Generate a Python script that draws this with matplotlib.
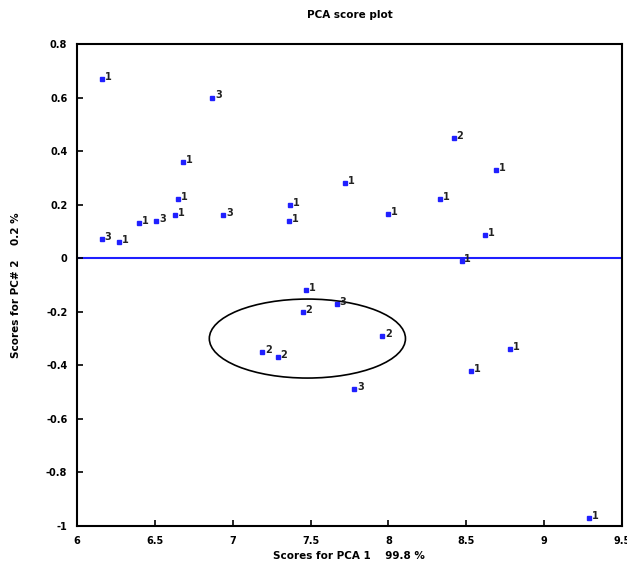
import numpy as np
import matplotlib.pyplot as plt
from matplotlib.patches import Ellipse

pc1 = [6.16, 6.87, 6.68, 6.65, 6.63, 6.40, 6.51, 6.16, 6.27, 6.94,
       7.37, 7.36, 7.72, 8.42, 8.69, 8.00, 8.33, 8.62, 8.47, 7.47,
       7.45, 7.67, 7.96, 7.19, 7.29, 7.78, 8.78, 8.53, 9.29]
pc2 = [0.67, 0.60, 0.36, 0.22, 0.16, 0.13, 0.14, 0.07, 0.06, 0.16,
       0.20, 0.14, 0.28, 0.45, 0.33, 0.165, 0.22, 0.087, -0.01, -0.12,
       -0.20, -0.17, -0.29, -0.35, -0.37, -0.49, -0.34, -0.42, -0.97]
groups = ['1', '3', '1', '1', '1', '1', '3', '3', '1', '3',
          '1', '1', '1', '2', '1', '1', '1', '1', '1', '1',
          '2', '3', '2', '2', '2', '3', '1', '1', '1']

xticks = [6, 6.5, 7, 7.5, 8, 8.5, 9, 9.5]
xticklabels = ['6', '6.5', '7', '7.5', '8', '8.5', '9', '9.5']
yticks = [-1, -0.8, -0.6, -0.4, -0.2, 0, 0.2, 0.4, 0.6, 0.8]
yticklabels = ['-1', '-0.8', '-0.6', '-0.4', '-0.2', '0', '0.2', '0.4', '0.6', '0.8']

plt.rc('font', family='DejaVu Sans', size=7)
fig = plt.figure(figsize=(6.27, 5.72), dpi=100)
ax = fig.add_axes([0.1228, 0.0804, 0.869, 0.8427])

ax.axhline(0, color='#1f1fff', linewidth=1.5, zorder=1)
ax.plot(pc1, pc2, 's', color='#2020ff', markersize=2.2, linestyle='none', zorder=3)
for x, y, g in zip(pc1, pc2, groups):
    ax.annotate(g, (x, y), xytext=(2, 1.5), textcoords='offset points',
                va='center', ha='left', fontsize=7, fontweight='bold', color='#222222')

ell = Ellipse((7.48, -0.30), 1.26, 0.295, fill=False, edgecolor='black', linewidth=1.2)
ax.add_patch(ell)

ax.set_xlim(6, 9.5)
ax.set_ylim(-1, 0.8)
ax.set_xticks(xticks)
ax.set_xticklabels(xticklabels, fontweight='bold')
ax.set_yticks(yticks)
ax.set_yticklabels(yticklabels, fontweight='bold')
ax.tick_params(direction='in', length=4, width=1.2, pad=7, labelsize=7)
for s in ax.spines.values():
    s.set_linewidth(1.5)

ax.set_title('PCA score plot', fontsize=7.5, pad=19, fontweight='bold')
ax.set_xlabel('Scores for PCA 1    99.8 %', fontsize=7.5, labelpad=4, fontweight='bold')
ax.set_ylabel('Scores for PC# 2    0.2 %', fontsize=7.5, labelpad=18, fontweight='bold')

plt.savefig('out.png', dpi=100)
